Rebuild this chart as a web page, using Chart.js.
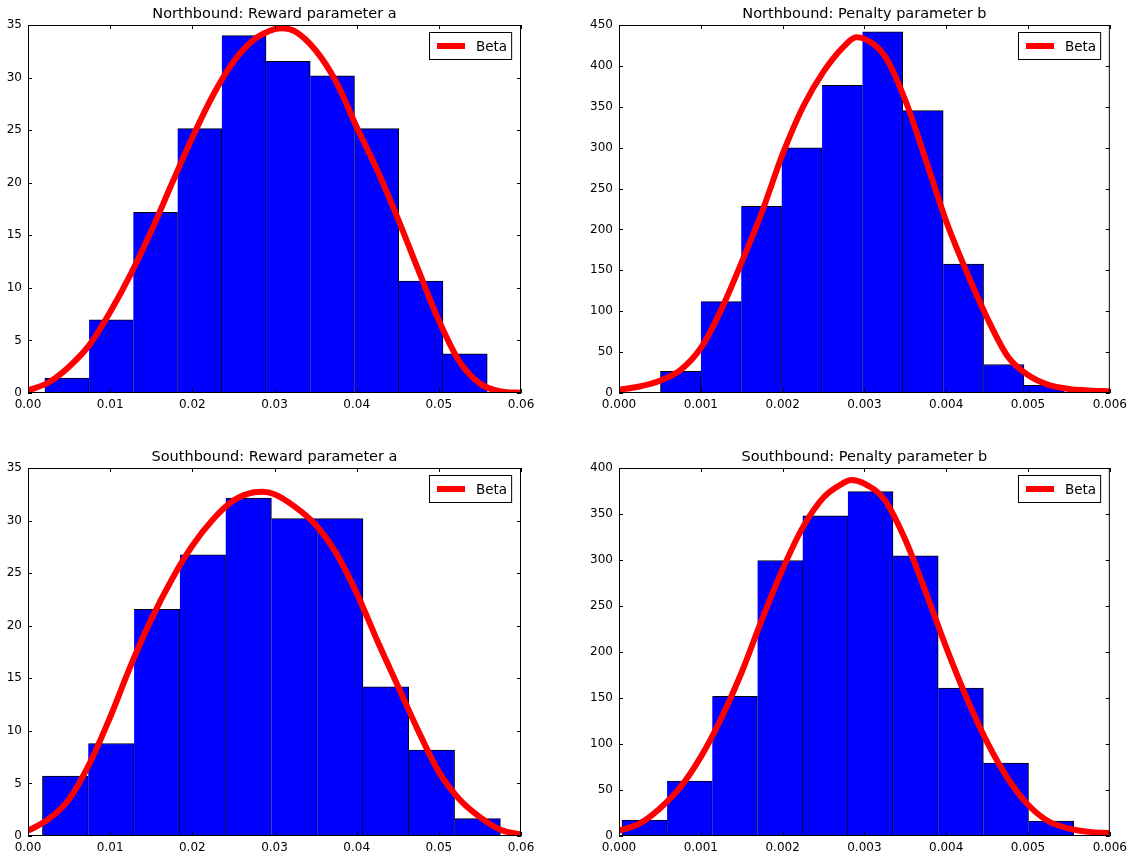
<!DOCTYPE html>
<html>
<head>
<meta charset="utf-8">
<title>Reward and penalty parameters</title>
<script src="https://cdn.jsdelivr.net/npm/chart.js@4.4.0/dist/chart.umd.min.js"></script>
<style>
  html, body { margin: 0; padding: 0; background: #fff; overflow: hidden; }
  body { width: 1133px; height: 862px; position: relative; }
  canvas.panel { position: absolute; }
</style>
</head>
<body>
<canvas id="nbReward" class="panel" width="541" height="423" style="left:0px;top:0px"></canvas>
<canvas id="nbPenalty" class="panel" width="553" height="423" style="left:579px;top:0px"></canvas>
<canvas id="sbReward" class="panel" width="541" height="423" style="left:0px;top:443px"></canvas>
<canvas id="sbPenalty" class="panel" width="553" height="423" style="left:579px;top:443px"></canvas>
<script>
// Northbound: Reward parameter a
const nbRewardEdges = [0.00205, 0.00743, 0.01282, 0.01820, 0.02359, 0.02897, 0.03435, 0.03974, 0.04512, 0.05051, 0.05589];
const nbRewardHeights = [1.42, 6.95, 17.18, 25.14, 33.99, 31.55, 30.16, 25.14, 10.64, 3.73];
const nbRewardCurveX = [0, 0.0025, 0.005, 0.0075, 0.01, 0.0125, 0.015, 0.0175, 0.02, 0.0225, 0.025, 0.0275, 0.03, 0.031, 0.0325, 0.035, 0.0375, 0.04, 0.0425, 0.045, 0.0475, 0.05, 0.0525, 0.055, 0.0575, 0.06];
const nbRewardCurveY = [0.25, 1.0, 2.5, 4.6, 7.7, 11.3, 15.4, 19.9, 24.3, 28.3, 31.5, 33.6, 34.6, 34.7, 34.4, 32.6, 29.6, 25.3, 21.2, 16.6, 11.7, 6.9, 3.0, 0.9, 0.15, 0.03];

// Northbound: Penalty parameter b
const nbPenaltyEdges = [0.000507, 0.001001, 0.001494, 0.001988, 0.002482, 0.002976, 0.003469, 0.003963, 0.004457, 0.004950, 0.005444];
const nbPenaltyHeights = [26.4, 111.7, 228.3, 299.8, 376.1, 441.5, 345.2, 157.6, 34.9, 9.3];
const nbPenaltyCurveX = [0, 0.00025, 0.0005, 0.00075, 0.001, 0.00125, 0.0015, 0.00175, 0.002, 0.00225, 0.0025, 0.00275, 0.0029, 0.003, 0.00325, 0.0035, 0.00375, 0.004, 0.00425, 0.0045, 0.00475, 0.005, 0.00525, 0.0055, 0.00575, 0.006];
const nbPenaltyCurveY = [4, 8, 15, 28, 55, 102, 160, 222, 292, 350, 393, 424, 435, 433, 412, 358, 285, 210, 148, 92, 45, 22, 10, 5, 3, 2];

// Southbound: Reward parameter a
const sbRewardEdges = [0.00176, 0.00733, 0.01291, 0.01848, 0.02405, 0.02963, 0.03520, 0.04077, 0.04634, 0.05192, 0.05749];
const sbRewardHeights = [5.70, 8.80, 21.55, 26.74, 32.15, 30.19, 30.19, 14.18, 8.16, 1.65];
const sbRewardCurveX = [0, 0.0025, 0.005, 0.0075, 0.01, 0.0125, 0.015, 0.0175, 0.02, 0.0225, 0.025, 0.0275, 0.0285, 0.03, 0.0325, 0.035, 0.0375, 0.04, 0.0425, 0.045, 0.0475, 0.05, 0.0525, 0.055, 0.0575, 0.06];
const sbRewardCurveY = [0.5, 1.6, 3.5, 6.9, 11.3, 16.2, 20.6, 24.4, 27.6, 30.1, 31.9, 32.7, 32.75, 32.5, 31.3, 29.6, 26.9, 23.1, 18.6, 14.3, 10.0, 6.1, 3.5, 1.8, 0.6, 0.15];

// Southbound: Penalty parameter b
const sbPenaltyEdges = [0.000036, 0.000588, 0.001140, 0.001693, 0.002245, 0.002797, 0.003350, 0.003902, 0.004454, 0.005006, 0.005559];
const sbPenaltyHeights = [17.4, 59.7, 151.9, 299.5, 347.9, 374.3, 304.5, 160.9, 79.2, 16.3];
const sbPenaltyCurveX = [0, 0.00025, 0.0005, 0.00075, 0.001, 0.00125, 0.0015, 0.00175, 0.002, 0.00225, 0.0025, 0.00275, 0.00283, 0.003, 0.00325, 0.0035, 0.00375, 0.004, 0.00425, 0.0045, 0.00475, 0.005, 0.00525, 0.0055, 0.00575, 0.006];
const sbPenaltyCurveY = [5.8, 13.5, 30, 53, 86, 128, 178, 236, 290, 336, 368, 384, 387, 383, 365, 322, 265, 205, 150, 102, 63, 34, 16, 8, 4.5, 3];

const FONT = "'DejaVu Sans', sans-serif";

// matplotlib-style frame: box round the axes, ticks pointing inwards, legend box top right
const axesFrame = {
    id: 'axesFrame',
    afterDatasetsDraw(chart) {
        const { ctx, chartArea: a } = chart;
        const xs = chart.scales.x, ys = chart.scales.y;
        ctx.save();
        ctx.strokeStyle = '#000';
        ctx.lineWidth = 1;
        ctx.beginPath();
        xs.ticks.forEach((t, i) => {
            const px = Math.round(xs.getPixelForTick(i)) + 0.5;
            ctx.moveTo(px, a.bottom); ctx.lineTo(px, a.bottom - 4);
            ctx.moveTo(px, a.top); ctx.lineTo(px, a.top + 4);
        });
        ys.ticks.forEach((t, i) => {
            const py = Math.round(ys.getPixelForTick(i)) + 0.5;
            ctx.moveTo(a.left, py); ctx.lineTo(a.left + 4, py);
            ctx.moveTo(a.right, py); ctx.lineTo(a.right - 4, py);
        });
        ctx.stroke();
        ctx.strokeRect(a.left + 0.5, a.top + 0.5, a.right - a.left - 1, a.bottom - a.top - 1);

        // legend
        const line = chart.data.datasets.find(d => d.type === 'line');
        ctx.font = '13.5px ' + FONT;
        const tw = ctx.measureText(line.label).width;
        const w = 8 + 28 + 11 + tw + 5, h = 28;
        const lx = Math.round(a.right - 9 - w), ly = Math.round(a.top + 7);
        ctx.fillStyle = '#fff';
        ctx.fillRect(lx, ly, w, h);
        ctx.strokeRect(lx + 0.5, ly + 0.5, w - 1, h - 1);
        ctx.strokeStyle = line.borderColor;
        ctx.lineWidth = line.borderWidth;
        ctx.beginPath();
        ctx.moveTo(lx + 8, ly + h / 2);
        ctx.lineTo(lx + 36, ly + h / 2);
        ctx.stroke();
        ctx.fillStyle = '#000';
        ctx.textBaseline = 'middle';
        ctx.fillText(line.label, lx + 47, ly + h / 2 + 1);
        ctx.restore();
    }
};

function drawHistogram(canvasId, title, edges, heights, curveX, curveY, xMax, xStep, xDigits, yMax, yStep, axisWidth) {
    const ctx = document.getElementById(canvasId).getContext('2d');
    const bins = heights.map((h, i) => ({ x: (edges[i] + edges[i + 1]) / 2, y: h }));
    const curve = curveX.map((x, i) => ({ x: x, y: curveY[i] }));

    return new Chart(ctx, {
        type: 'bar',
        data: {
            datasets: [{
                type: 'line',
                label: 'Beta',
                data: curve,
                borderColor: '#ff0000',
                borderWidth: 6,
                pointRadius: 0,
                cubicInterpolationMode: 'monotone',
                clip: 0,
                order: 1
            }, {
                type: 'bar',
                label: 'histogram',
                data: bins,
                backgroundColor: '#0000ff',
                borderColor: '#000',
                borderWidth: (c) => c.dataIndex === 0 ? 1 : { top: 1, right: 1, bottom: 1, left: 0 },
                borderSkipped: false,
                barPercentage: 1,
                categoryPercentage: 1,
                grouped: false,
                order: 2
            }]
        },
        options: {
            responsive: false,
            animation: false,
            events: [],
            layout: { padding: { left: 0, right: 20, top: 0, bottom: 0 } },
            scales: {
                x: {
                    type: 'linear',
                    offset: false,
                    min: 0,
                    max: xMax,
                    grid: { display: false, drawTicks: false },
                    border: { display: false },
                    ticks: {
                        stepSize: xStep,
                        padding: 5,
                        color: '#000',
                        font: { family: FONT, size: 12 },
                        maxRotation: 0,
                        callback: (v) => v.toFixed(xDigits)
                    },
                    afterFit: (s) => { s.height = 30; }
                },
                y: {
                    min: 0,
                    max: yMax,
                    grid: { display: false, drawTicks: false },
                    border: { display: false },
                    ticks: {
                        stepSize: yStep,
                        padding: 6,
                        color: '#000',
                        font: { family: FONT, size: 12 },
                        callback: (v) => String(v)
                    },
                    afterFit: (s) => { s.width = axisWidth; }
                }
            },
            plugins: {
                legend: { display: false },
                tooltip: { enabled: false },
                title: {
                    display: true,
                    text: title,
                    fullSize: false,
                    color: '#000',
                    font: { family: FONT, size: 14.5, weight: 'normal', lineHeight: '16px' },
                    padding: { top: 6, bottom: 3 }
                }
            }
        },
        plugins: [axesFrame]
    });
}

drawHistogram('nbReward', 'Northbound: Reward parameter a', nbRewardEdges, nbRewardHeights, nbRewardCurveX, nbRewardCurveY, 0.06, 0.01, 2, 35, 5, 28);
drawHistogram('nbPenalty', 'Northbound: Penalty parameter b', nbPenaltyEdges, nbPenaltyHeights, nbPenaltyCurveX, nbPenaltyCurveY, 0.006, 0.001, 3, 450, 50, 40);
drawHistogram('sbReward', 'Southbound: Reward parameter a', sbRewardEdges, sbRewardHeights, sbRewardCurveX, sbRewardCurveY, 0.06, 0.01, 2, 35, 5, 28);
drawHistogram('sbPenalty', 'Southbound: Penalty parameter b', sbPenaltyEdges, sbPenaltyHeights, sbPenaltyCurveX, sbPenaltyCurveY, 0.006, 0.001, 3, 400, 50, 40);
</script>
</body>
</html>
